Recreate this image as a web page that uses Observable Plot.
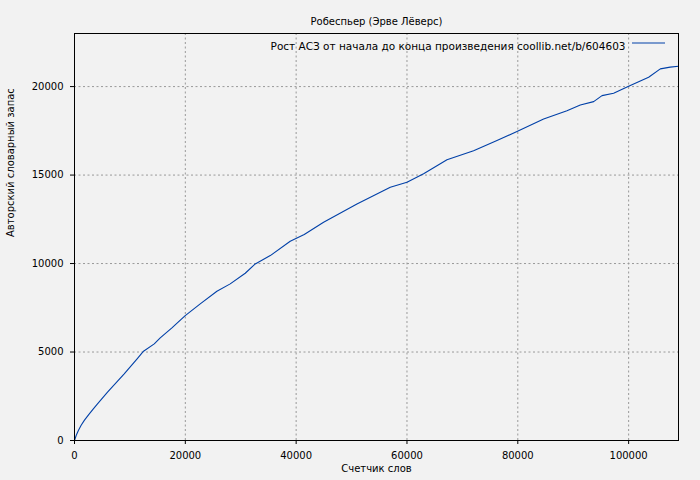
<!DOCTYPE html>
<html>
<head>
<meta charset="utf-8">
<script src="https://cdn.jsdelivr.net/npm/d3@7"></script>
<script src="https://cdn.jsdelivr.net/npm/@observablehq/plot@0.6"></script>
<style>
  html, body { margin: 0; padding: 0; background: #f2f2f2; }
  #chart svg { display: block; }
</style>
</head>
<body>
<div id="chart"></div>
<script>
const titleText = "Робеспьер (Эрве Лёверс)";
const legendText = "Рост АСЗ от начала до конца произведения coollib.net/b/604603";
const xLabelText = "Счетчик слов";
const yLabelText = "Авторский словарный запас";

const words = [0, 300, 700, 1200, 1800, 2600, 3400, 4150, 5960, 8970, 11300, 12460, 14390, 15470, 17580, 19980, 22690, 25700, 28100, 30810, 32620, 35330, 38930, 41460, 44950, 50970, 56990, 60000, 63000, 67220, 72020, 76240, 79850, 84660, 88870, 91280, 93690, 95200, 97290, 100000, 103610, 105720, 107500, 109000];
const vocab = [0, 280, 560, 860, 1150, 1480, 1790, 2070, 2730, 3770, 4615, 5045, 5460, 5800, 6365, 7060, 7720, 8435, 8850, 9450, 9980, 10450, 11260, 11640, 12330, 13370, 14310, 14590, 15070, 15860, 16380, 16950, 17460, 18170, 18640, 18960, 19150, 19490, 19620, 20020, 20530, 21000, 21100, 21150];

const xTicks = [0, 20000, 40000, 60000, 80000, 100000];
const yTicks = [0, 5000, 10000, 15000, 20000];

const data = words.map((w, i) => ({w, v: vocab[i]}));

const font = "DejaVu Sans, sans-serif";
const lineColor = "#0040a8";

const plot = Plot.plot({
  width: 700,
  height: 480,
  marginLeft: 74,
  marginRight: 22,
  marginTop: 33,
  marginBottom: 40,
  style: {background: "#f2f2f2", fontFamily: font, fontSize: "10px", color: "black"},
  x: {domain: [0, 109000]},
  y: {domain: [0, 23000]},
  marks: [
    Plot.gridX(xTicks, {stroke: "#999", strokeOpacity: 1, strokeDasharray: "2,2.5"}),
    Plot.gridY(yTicks, {stroke: "#999", strokeOpacity: 1, strokeDasharray: "2,2.5"}),
    Plot.axisX({ticks: xTicks, tickFormat: d => String(d), tickSize: 4, tickPadding: 7, label: null, stroke: "black", fontSize: 10}),
    Plot.axisY({ticks: yTicks, tickFormat: d => String(d), tickSize: 4, tickPadding: 7, label: null, stroke: "black", fontSize: 10}),
    Plot.line(data, {x: "w", y: "v", stroke: lineColor, strokeWidth: 1.1}),
    Plot.frame({stroke: "black", strokeWidth: 1}),
    Plot.text([titleText], {frameAnchor: "top", dy: -16, fontSize: 10, fill: "black"}),
    Plot.text([xLabelText], {frameAnchor: "bottom", dy: 31, fontSize: 10, fill: "black"}),
    Plot.text([yLabelText], {frameAnchor: "left", dx: -64, rotate: -90, fontSize: 10, fill: "black"}),
    Plot.text([legendText], {frameAnchor: "top-right", dx: -53, dy: 8.6, textAnchor: "end", fontSize: 10.5, fill: "black"})
  ]
});

// legend line sample
const svg = d3.select(plot);
const right = 700 - 22;
svg.append("line")
  .attr("x1", right - 46).attr("x2", right - 13)
  .attr("y1", 33 + 10).attr("y2", 33 + 10)
  .attr("stroke", lineColor).attr("stroke-width", 1.1);

document.getElementById("chart").appendChild(plot);
</script>
</body>
</html>
